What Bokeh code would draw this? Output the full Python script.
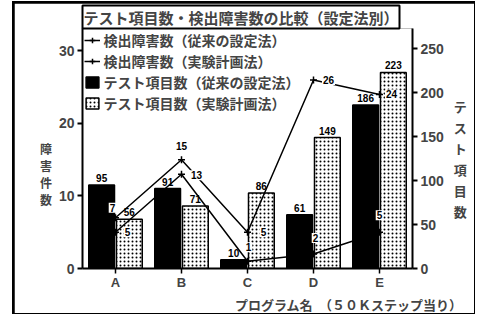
from bokeh.plotting import figure
from bokeh.models import (Range1d, LinearAxis, Legend, LegendItem, FactorRange,
                          ColumnDataSource, FixedTicker, Title)
from bokeh.layouts import column
from bokeh.transform import dodge
from bokeh.core.properties import value
from bokeh.embed import file_html
from bokeh.resources import INLINE

programs = ["A", "B", "C", "D", "E"]
tests_conventional = [95, 91, 10, 61, 186]
tests_doe = [56, 71, 86, 149, 223]
defects_conventional = [5, 13, 1, 2, 5]
defects_doe = [7, 15, 5, 26, 24]
left_ticks = [0, 10, 20, 30]
right_ticks = [0, 50, 100, 150, 200, 250]

title_text = "テスト項目数・検出障害数の比較（設定法別）"
legend_labels = ["検出障害数（従来の設定法）", "検出障害数（実験計画法）",
                 "テスト項目数（従来の設定法）", "テスト項目数（実験計画法）"]
left_label = "障害件数"
right_label = "テスト項目数"
x_label = "プログラム名"
x_note = "（５０Ｋステップ当り）"

# label placement offsets (screen px) for line point labels
conv_dx = [12, 15, 1, 2, 0]
conv_dy = [0, 1, -14, -16, -17]
doe_dx = [-3, 0, 16, 15, 12]
doe_dy = [-10, -14, 0, 0, 0]

JP = "Noto Sans CJK JP"
NUM = "Liberation Sans"

p = figure(x_range=FactorRange(*programs), y_range=Range1d(0, 33.1),
           frame_width=330, frame_height=240, output_backend="svg", toolbar_location=None,
           min_border_left=68, min_border_right=62, min_border_bottom=20, min_border_top=23,
           title=title_text, border_fill_color="white")
p.extra_y_ranges = {"tests": Range1d(0, 273)}
p.outline_line_color = None
p.xgrid.visible = False
p.ygrid.visible = False

p.title.text_font = JP
p.title.text_font_size = "15px"
p.title.text_font_style = "bold"
p.title.align = "left"
p.title.border_line_color = "black"
p.title.border_line_width = 2
p.title.padding = 1
p.title.offset = 0
p.title.standoff = 0

src = ColumnDataSource(dict(prog=programs, tc=tests_conventional, td=tests_doe,
                            dc=defects_conventional, dd=defects_doe,
                            tcl=[str(v) for v in tests_conventional],
                            tdl=[str(v) for v in tests_doe],
                            dcl=[str(v) for v in defects_conventional],
                            ddl=[str(v) for v in defects_doe],
                            cdx=conv_dx, cdy=conv_dy, ddx=doe_dx, ddy=doe_dy))

bw = 0.39
r_tc = p.vbar(x=dodge("prog", -0.21, range=p.x_range), top="tc", width=bw, source=src,
              y_range_name="tests", fill_color="black", line_color="black", line_width=1.5)
r_td = p.vbar(x=dodge("prog", 0.21, range=p.x_range), top="td", width=bw, source=src,
              y_range_name="tests", fill_color="white", line_color="black", line_width=1.5,
              hatch_pattern="dot", hatch_color="black", hatch_scale=4, hatch_weight=1)

p.text(x=dodge("prog", -0.21, range=p.x_range), y="tc", text="tcl", source=src, y_range_name="tests",
       y_offset=-3, text_align="center", text_baseline="bottom", text_font=value(NUM),
       text_font_size="10px", text_font_style="bold")
p.text(x=dodge("prog", 0.21, range=p.x_range), y="td", text="tdl", source=src, y_range_name="tests",
       y_offset=-3, text_align="center", text_baseline="bottom", text_font=value(NUM),
       text_font_size="10px", text_font_style="bold")

l_dc = p.line(x="prog", y="dc", source=src, line_color="black", line_width=1.5)
s_dc = p.scatter(x="prog", y="dc", source=src, marker="cross", size=7, line_color="black", line_width=1.5)
l_dd = p.line(x="prog", y="dd", source=src, line_color="black", line_width=1.5)
s_dd = p.scatter(x="prog", y="dd", source=src, marker="cross", size=7, line_color="black", line_width=1.5)

for ycol, tcol, dxc, dyc in (("dc", "dcl", "cdx", "cdy"), ("dd", "ddl", "ddx", "ddy")):
    p.text(x="prog", y=ycol, text=tcol, source=src, x_offset=dxc, y_offset=dyc,
           text_align="center", text_baseline="middle", text_font=value(NUM),
           text_font_size="10px", text_font_style="bold", text_color="black",
           background_fill_color="white", padding=1)

# axes
p.yaxis.ticker = FixedTicker(ticks=left_ticks)
ra = LinearAxis(y_range_name="tests", ticker=FixedTicker(ticks=right_ticks))
p.add_layout(ra, "right")
for ax in (p.yaxis[0], ra):
    ax.axis_line_width = 2
    ax.major_tick_line_width = 2
    ax.major_tick_out = 5
    ax.major_tick_in = 0
    ax.minor_tick_out = 0
    ax.minor_tick_in = 0
    ax.major_label_text_font = NUM
    ax.major_label_text_font_size = "14px"
    ax.major_label_text_font_style = "bold"
    ax.major_label_standoff = 3
    ax.axis_label_text_font = JP
    ax.axis_label_text_font_style = "bold"
    ax.axis_label_orientation = "horizontal"
p.yaxis[0].axis_label = "\n".join(["　", "　", "　"] + list(left_label))
p.yaxis[0].axis_label_text_font_size = "12px"
p.yaxis[0].axis_label_text_line_height = 1.0
p.yaxis[0].axis_label_standoff = 4
ra.axis_label = "\n".join(["　"] + list(right_label))
ra.axis_label_text_font_size = "13px"
ra.axis_label_text_line_height = 1.1
ra.axis_label_standoff = 7
p.xaxis.axis_line_width = 2
p.xaxis.major_tick_line_width = 1.5
p.xaxis.major_tick_out = 5
p.xaxis.major_tick_in = 0
p.xaxis.major_label_text_font = NUM
p.xaxis.major_label_text_font_size = "13px"
p.xaxis.major_label_text_font_style = "bold"
p.xaxis.major_label_standoff = 1

legend = Legend(items=[
    LegendItem(label=legend_labels[0], renderers=[l_dc, s_dc]),
    LegendItem(label=legend_labels[1], renderers=[l_dd, s_dd]),
    LegendItem(label=legend_labels[2], renderers=[r_tc]),
    LegendItem(label=legend_labels[3], renderers=[r_td]),
], location="top_left")
legend.label_text_font = JP
legend.label_text_font_size = "14px"
legend.label_text_font_style = "bold"
legend.label_text_line_height = 1.0
legend.border_line_color = None
legend.background_fill_alpha = 0
legend.glyph_width = 16
legend.glyph_height = 14
legend.spacing = 1
legend.padding = 2
legend.margin = 2
legend.label_standoff = 4
p.add_layout(legend)

# x caption below the axis
cap = Title(text=x_label + "　" + x_note, text_font=JP, text_font_size="13px",
            text_font_style="bold", align="right", offset=-50, standoff=0,
            text_line_height=1.0)
p.add_layout(cap, "below")

page = column(p, styles={"background-color": "black", "padding": "1.5px",
                         "margin-left": "12px", "margin-top": "1px"})

open("out.html", "w").write(file_html(page, INLINE))
